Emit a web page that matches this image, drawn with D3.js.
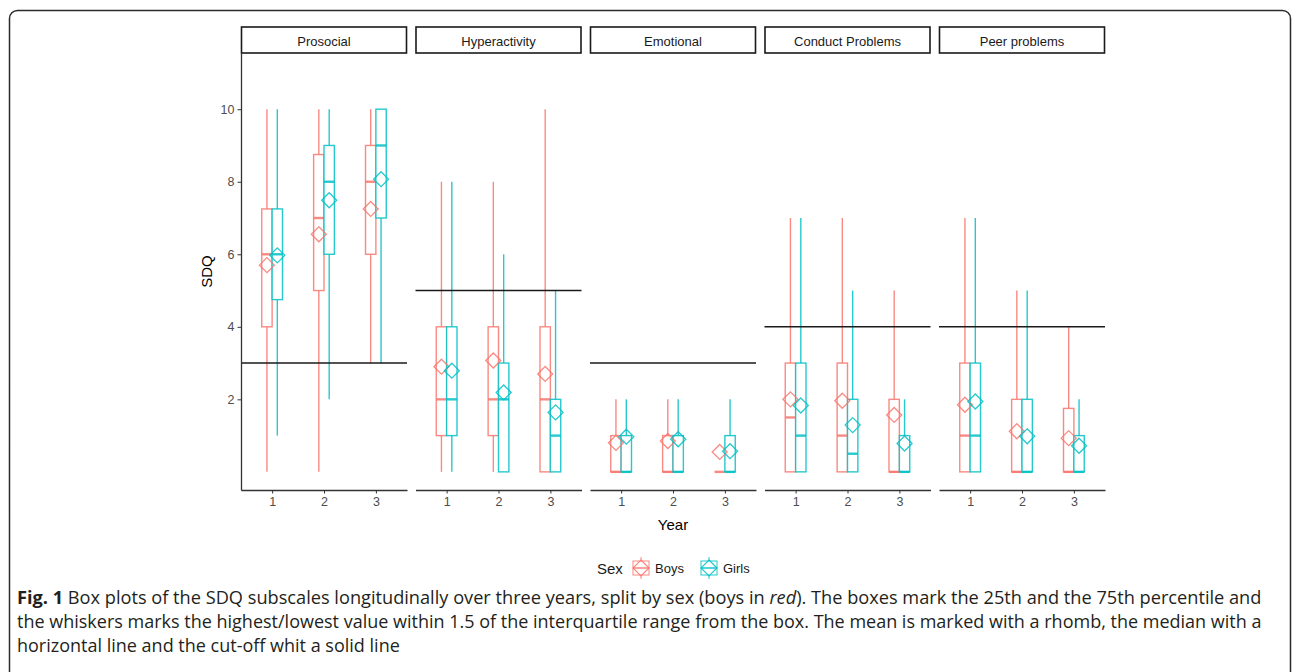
<!DOCTYPE html>
<html>
<head>
<meta charset="utf-8">
<script src="https://cdn.jsdelivr.net/npm/d3@7"></script>
<style>
body { margin: 0; background: #fff; }
svg { display: block; }
</style>
</head>
<body>
<div id="chart"></div>
<script>
var subscales = ["Prosocial", "Hyperactivity", "Emotional", "Conduct Problems", "Peer problems"];
var years = [1, 2, 3];
var sexes = ["Boys", "Girls"];
var cutoffs = [3, 5, 3, 4, 4];
var yTicks = [2, 4, 6, 8, 10];

// box stats per subscale, years 1..3
var boysLow    = [[0, 0, 3], [0, 0, 0], [0, 0, 0], [0, 0, 0], [0, 0, 0]];
var boysQ1     = [[4, 5, 6], [1, 1, 0], [0, 0, 0], [0, 0, 0], [0, 0, 0]];
var boysMedian = [[6, 7, 8], [2, 2, 2], [0, 0, 0], [1.5, 1, 0], [1, 0, 0]];
var boysQ3     = [[7.25, 8.75, 9], [4, 4, 4], [1, 1, 0], [3, 3, 2], [3, 2, 1.75]];
var boysHigh   = [[10, 10, 10], [8, 8, 10], [2, 2, 0], [7, 7, 5], [7, 5, 4]];
var boysMean   = [[5.7, 6.55, 7.25], [2.9, 3.07, 2.7], [0.8, 0.85, 0.55], [2.0, 1.96, 1.57], [1.85, 1.12, 0.93]];

var girlsLow    = [[1, 2, 3], [0, 0, 0], [0, 0, 0], [0, 0, 0], [0, 0, 0]];
var girlsQ1     = [[4.75, 6, 7], [1, 0, 0], [0, 0, 0], [0, 0, 0], [0, 0, 0]];
var girlsMedian = [[6, 8, 9], [2, 2, 1], [0, 0, 0], [1, 0.5, 0], [1, 0, 0]];
var girlsQ3     = [[7.25, 9, 10], [4, 3, 2], [1, 1, 1], [3, 2, 1], [3, 2, 1]];
var girlsHigh   = [[10, 10, 10], [8, 6, 5], [2, 2, 2], [7, 5, 2], [7, 5, 2]];
var girlsMean   = [[5.97, 7.49, 8.07], [2.79, 2.19, 1.64], [0.97, 0.9, 0.57], [1.83, 1.29, 0.78], [1.94, 0.98, 0.72]];

var svgWidth = 1292;
var svgHeight = 672;
var colors = { Boys: "#F8766D", Girls: "#00BFC4" };
var plotFont = "'Liberation Sans', Arial, sans-serif";

var panelLeft = 241;
var panelWidth = 166;
var panelStep = 174.5;
var panelTop = 53;
var panelBottom = 490;

var svg = d3.select("#chart")
  .append("svg")
  .attr("width", svgWidth)
  .attr("height", svgHeight);

// outer frame
svg.append("rect")
  .attr("x", 9.5)
  .attr("y", 10.5)
  .attr("width", 1281)
  .attr("height", 700)
  .attr("rx", 8)
  .attr("fill", "none")
  .attr("stroke", "#2b2b2b")
  .attr("stroke-width", 1.5);

var yScale = d3.scaleLinear()
  .domain([-0.5, 11.55])
  .range([panelBottom, panelTop]);

var xScale = d3.scaleLinear()
  .domain([0.4, 3.6])
  .range([0, panelWidth]);

var dodge = { Boys: -0.1, Girls: 0.1 };
var boxHalf = 0.1;

// build rows from the arrays
var rows = [];
subscales.forEach(function(s, i) {
  years.forEach(function(yr, j) {
    rows.push({ panel: i, year: yr, sex: "Boys", low: boysLow[i][j], q1: boysQ1[i][j],
      median: boysMedian[i][j], q3: boysQ3[i][j], high: boysHigh[i][j], mean: boysMean[i][j] });
    rows.push({ panel: i, year: yr, sex: "Girls", low: girlsLow[i][j], q1: girlsQ1[i][j],
      median: girlsMedian[i][j], q3: girlsQ3[i][j], high: girlsHigh[i][j], mean: girlsMean[i][j] });
  });
});

function diamond(cx, cy, r) {
  return "M" + cx + "," + (cy - r) + "L" + (cx + r) + "," + cy + "L" + cx + "," + (cy + r) + "L" + (cx - r) + "," + cy + "Z";
}

subscales.forEach(function(name, i) {
  var g = svg.append("g")
    .attr("transform", `translate(${panelLeft + i * panelStep}, 0)`);

  // strip
  g.append("rect")
    .attr("x", 0.5)
    .attr("y", 27)
    .attr("width", panelWidth - 1)
    .attr("height", 26)
    .attr("fill", "#fff")
    .attr("stroke", "#1a1a1a")
    .attr("stroke-width", 1.6);
  g.append("text")
    .attr("x", panelWidth / 2)
    .attr("y", 41)
    .attr("text-anchor", "middle")
    .attr("dominant-baseline", "central")
    .attr("font-family", plotFont)
    .attr("font-size", 13)
    .attr("fill", "#1a1a1a")
    .text(name);

  var data = rows.filter(d => d.panel === i);

  var boxes = g.selectAll(".box")
    .data(data)
    .enter()
    .append("g")
    .attr("class", "box")
    .attr("stroke", d => colors[d.sex])
    .attr("stroke-opacity", 0.85);

  boxes.filter(d => d.high > d.q3)
    .append("line")
    .attr("x1", d => xScale(d.year + dodge[d.sex]))
    .attr("x2", d => xScale(d.year + dodge[d.sex]))
    .attr("y1", d => yScale(d.q3))
    .attr("y2", d => yScale(d.high))
    .attr("stroke-width", 1.4);

  boxes.filter(d => d.low < d.q1)
    .append("line")
    .attr("x1", d => xScale(d.year + dodge[d.sex]))
    .attr("x2", d => xScale(d.year + dodge[d.sex]))
    .attr("y1", d => yScale(d.q1))
    .attr("y2", d => yScale(d.low))
    .attr("stroke-width", 1.4);

  boxes.filter(d => d.q3 > d.q1)
    .append("rect")
    .attr("x", d => xScale(d.year + dodge[d.sex] - boxHalf))
    .attr("y", d => yScale(d.q3))
    .attr("width", d => xScale(d.year + dodge[d.sex] + boxHalf) - xScale(d.year + dodge[d.sex] - boxHalf))
    .attr("height", d => yScale(d.q1) - yScale(d.q3))
    .attr("fill", "#fff")
    .attr("stroke-width", 1.4);

  boxes.append("line")
    .attr("x1", d => xScale(d.year + dodge[d.sex] - boxHalf))
    .attr("x2", d => xScale(d.year + dodge[d.sex] + boxHalf))
    .attr("y1", d => yScale(d.median))
    .attr("y2", d => yScale(d.median))
    .attr("stroke-width", 2.4);

  // means
  g.selectAll(".mean")
    .data(data)
    .enter()
    .append("path")
    .attr("class", "mean")
    .attr("d", d => diamond(xScale(d.year + dodge[d.sex]), yScale(d.mean), 7.5))
    .attr("fill", "none")
    .attr("stroke", d => colors[d.sex])
    .attr("stroke-opacity", 0.85)
    .attr("stroke-width", 1.3);

  // cut-off
  g.append("line")
    .attr("x1", 0)
    .attr("x2", panelWidth)
    .attr("y1", yScale(cutoffs[i]))
    .attr("y2", yScale(cutoffs[i]))
    .attr("stroke", "#1a1a1a")
    .attr("stroke-width", 1.4);

  // x axis
  var xAxis = g.append("g")
    .attr("transform", `translate(0, ${panelBottom})`)
    .call(d3.axisBottom(xScale).tickValues(years).tickFormat(d3.format("d"))
      .tickSize(3.5).tickSizeOuter(0).tickPadding(4));
  xAxis.select(".domain").attr("stroke", "#333").attr("stroke-width", 1.3);
  xAxis.selectAll(".tick line").attr("stroke", "#333");
  xAxis.selectAll("text")
    .attr("font-family", plotFont)
    .attr("font-size", 12.5)
    .attr("fill", "#4d4d4d");

  if (i === 0) {
    var yAxis = g.append("g")
      .call(d3.axisLeft(yScale).tickValues(yTicks).tickSize(3.5).tickSizeOuter(0).tickPadding(3));
    yAxis.select(".domain").attr("stroke", "#333").attr("stroke-width", 1.3);
    yAxis.selectAll(".tick line").attr("stroke", "#333");
    yAxis.selectAll("text")
      .attr("font-family", plotFont)
      .attr("font-size", 12.5)
      .attr("fill", "#4d4d4d");
  }
});

// axis titles
svg.append("text")
  .attr("transform", `translate(206, ${(panelTop + panelBottom) / 2}) rotate(-90)`)
  .attr("text-anchor", "middle")
  .attr("dominant-baseline", "central")
  .attr("font-family", plotFont)
  .attr("font-size", 15)
  .attr("fill", "#000")
  .text("SDQ");

svg.append("text")
  .attr("x", panelLeft + 2 * panelStep + panelWidth / 2)
  .attr("y", 524)
  .attr("text-anchor", "middle")
  .attr("dominant-baseline", "central")
  .attr("font-family", plotFont)
  .attr("font-size", 15)
  .attr("fill", "#000")
  .text("Year");

// legend
var legend = svg.append("g").attr("transform", "translate(0, 568)");
legend.append("text")
  .attr("x", 597)
  .attr("y", 0)
  .attr("dominant-baseline", "central")
  .attr("font-family", plotFont)
  .attr("font-size", 15)
  .attr("fill", "#1a1a1a")
  .text("Sex");

var keyX = { Boys: 641, Girls: 709 };
sexes.forEach(function(s) {
  var k = legend.append("g")
    .attr("stroke", colors[s])
    .attr("stroke-opacity", 0.85)
    .attr("fill", "none");
  var cx = keyX[s];
  k.append("line").attr("x1", cx).attr("x2", cx).attr("y1", -11).attr("y2", 11).attr("stroke-width", 1);
  k.append("rect").attr("x", cx - 8).attr("y", -7).attr("width", 16).attr("height", 14)
    .attr("fill", "#fff").attr("stroke-width", 1);
  k.append("line").attr("x1", cx - 8).attr("x2", cx + 8).attr("y1", 0).attr("y2", 0).attr("stroke-width", 1.6);
  k.append("path").attr("d", diamond(cx, 0, 8)).attr("stroke-width", 1.2);
  legend.append("text")
    .attr("x", cx + 14)
    .attr("y", 0)
    .attr("dominant-baseline", "central")
    .attr("font-family", plotFont)
    .attr("font-size", 13)
    .attr("fill", "#1a1a1a")
    .text(s);
});

// caption
var captionLines = [
  [{ t: "Fig. 1", w: "bold" }, { t: " Box plots of the SDQ subscales longitudinally over three years, split by sex (boys in " },
   { t: "red", i: true }, { t: "). The boxes mark the 25th and the 75th percentile and" }],
  [{ t: "the whiskers marks the highest/lowest value within 1.5 of the interquartile range from the box. The mean is marked with a rhomb, the median with a" }],
  [{ t: "horizontal line and the cut-off whit a solid line" }]
];
var captionY = [604, 628, 652];
var captionTexts = captionLines.map(function(parts, li) {
  var t = svg.append("text")
    .attr("x", 17)
    .attr("y", captionY[li])
    .attr("font-family", "'Open Sans', 'Noto Sans', sans-serif")
    .attr("font-size", 16)
    .attr("fill", "#231f20");
  parts.forEach(function(p) {
    t.append("tspan")
      .attr("font-weight", p.w || null)
      .attr("font-style", p.i ? "italic" : null)
      .text(p.t);
  });
  return t;
});
// fit the two full lines to the caption width, last line follows line 2
var size1 = 16 * 1245 / captionTexts[0].node().getComputedTextLength();
var size2 = 16 * 1245 / captionTexts[1].node().getComputedTextLength();
captionTexts[0].attr("font-size", size1);
captionTexts[1].attr("font-size", size2);
captionTexts[2].attr("font-size", size2);
</script>
</body>
</html>
